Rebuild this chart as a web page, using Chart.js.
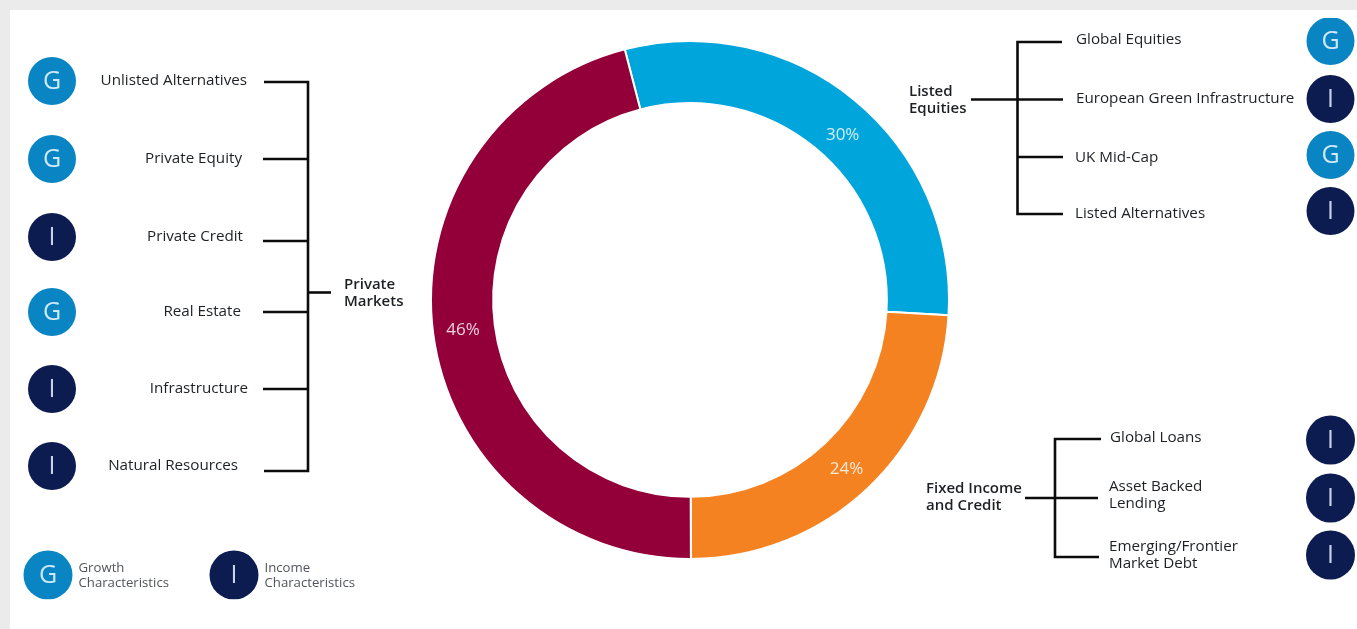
<!DOCTYPE html>
<html>
<head>
<meta charset="utf-8">
<title>Portfolio allocation</title>
<script src="https://cdn.jsdelivr.net/npm/chart.js@4/dist/chart.umd.min.js"></script>
<style>
  html, body { margin: 0; padding: 0; background: #ebebeb; overflow: hidden; }
  canvas { display: block; }
</style>
</head>
<body>
<canvas id="myChart" width="1357" height="629"></canvas>
<script>
// allocation split
var assetClasses = ["Listed Equities", "Fixed Income and Credit", "Private Markets"];
var allocation = [30, 24, 46];
var sliceColors = ["#00a5db", "#f58220", "#930039"];

// strategies per asset class, G = growth, I = income
var privateNames = ["Unlisted Alternatives", "Private Equity", "Private Credit", "Real Estate", "Infrastructure", "Natural Resources"];
var privateTypes = ["G", "G", "I", "G", "I", "I"];
var listedNames = ["Global Equities", "European Green Infrastructure", "UK Mid-Cap", "Listed Alternatives"];
var listedTypes = ["G", "I", "G", "I"];
var fixedNames = [["Global Loans"], ["Asset Backed", "Lending"], ["Emerging/Frontier", "Market Debt"]];
var fixedTypes = ["I", "I", "I"];

var legendNames = [["Growth", "Characteristics"], ["Income", "Characteristics"]];
var legendTypes = ["G", "I"];

var TEXT = "#1d2024";
var BADGE = { G: "#0a85c4", I: "#0c1c50" };
var GLYPH = { G: "#cfe9f6", I: "#c9d3e6" };

function badge(c, x, y, r, type) {
  c.beginPath();
  c.arc(x, y, r, 0, Math.PI * 2);
  c.fillStyle = BADGE[type];
  c.fill();
  c.fillStyle = GLYPH[type];
  c.font = "25px 'Open Sans'";
  c.textAlign = "center";
  c.textBaseline = "middle";
  c.fillText(type, x, y + 1);
}

function lines(c, segs) {
  c.strokeStyle = "#0c0c0c";
  c.lineWidth = 2.6;
  c.lineCap = "butt";
  c.lineJoin = "miter";
  segs.forEach(function (s) {
    c.beginPath();
    c.moveTo(s[0], s[1]);
    for (var i = 2; i < s.length; i += 2) c.lineTo(s[i], s[i + 1]);
    c.stroke();
  });
}

function text(c, str, x, y, font, color, align) {
  c.font = font;
  c.fillStyle = color || TEXT;
  c.textAlign = align || "left";
  c.textBaseline = "middle";
  c.fillText(str, x, y + 1.5);
}

// white panel behind the doughnut
var panel = {
  id: "panel",
  beforeDraw: function (chart) {
    var c = chart.ctx;
    c.save();
    c.fillStyle = "#ffffff";
    c.fillRect(10, 10, chart.width - 10, chart.height - 10);
    c.restore();
  }
};

// percentages on the ring, brackets and strategy badges around it
var annotations = {
  id: "annotations",
  afterDraw: function (chart) {
    var c = chart.ctx;
    c.save();

    var arcs = chart.getDatasetMeta(0).data;
    var nudge = [[8, 10], [0, 2], [-1, -1]];
    arcs.forEach(function (arc, i) {
      var p = arc.tooltipPosition();
      text(c, allocation[i] + "%", p.x + nudge[i][0], p.y + nudge[i][1], "17px 'Open Sans'", "rgba(255,255,255,0.82)", "center");
    });

    // private markets, left side
    var leftRight = [247, 242, 243, 241, 248, 238];
    var leftText = [80, 158, 236, 311, 388, 465];
    var leftBadge = [81, 159, 237, 312, 389, 466];
    privateNames.forEach(function (n, i) {
      text(c, n, leftRight[i], leftText[i] - 0.5, "15.2px 'Open Sans'", TEXT, "right");
      badge(c, 52, leftBadge[i], 24, privateTypes[i]);
    });
    lines(c, [
      [264, 82, 308, 82, 308, 471, 264, 471],
      [263, 159, 308, 159],
      [263, 241, 308, 241],
      [263, 312, 308, 312],
      [263, 389, 308, 389],
      [308, 292.5, 331, 292.5]
    ]);
    text(c, "Private", 344, 283, "600 15px 'Open Sans'");
    text(c, "Markets", 344, 300, "600 15px 'Open Sans'");

    // listed equities, top right; the first circle is cut off at the top
    var listedY = [38, 97, 156, 212];
    var listedBadge = [41, 99, 155, 211];
    c.save();
    c.beginPath();
    c.rect(0, 18, chart.width, chart.height);
    c.clip();
    listedNames.forEach(function (n, i) {
      text(c, n, i > 1 ? 1075 : 1076, listedY[i], "15.2px 'Open Sans'");
      badge(c, 1330.5, listedBadge[i], 24, listedTypes[i]);
    });
    c.restore();
    lines(c, [
      [1062, 42, 1017.5, 42, 1017.5, 214, 1063, 214],
      [971, 99.5, 1063, 99.5],
      [1017.5, 157, 1063, 157]
    ]);
    text(c, "Listed", 909, 90, "600 15px 'Open Sans'");
    text(c, "Equities", 909, 107, "600 15px 'Open Sans'");

    // fixed income, bottom right
    var fixedY = [[436], [485, 502], [545, 562]];
    var fixedBadge = [440, 498, 555];
    fixedNames.forEach(function (parts, i) {
      parts.forEach(function (n, k) {
        text(c, n, i == 0 ? 1110 : 1109, fixedY[i][k], "15.2px 'Open Sans'");
      });
      badge(c, 1330.5, fixedBadge[i], 24.5, fixedTypes[i]);
    });
    lines(c, [
      [1101, 439, 1055, 439, 1055, 557, 1099, 557],
      [1025, 498, 1098, 498]
    ]);
    text(c, "Fixed Income", 926, 487, "600 15px 'Open Sans'");
    text(c, "and Credit", 926, 504, "600 15px 'Open Sans'");

    // key, the circles are cut off at the bottom
    var keyX = [48, 234];
    c.save();
    c.beginPath();
    c.rect(0, 0, chart.width, 599.5);
    c.clip();
    legendTypes.forEach(function (t, i) {
      badge(c, keyX[i], 575, 24.5, t);
    });
    c.restore();
    legendNames.forEach(function (parts, i) {
      parts.forEach(function (n, k) {
        text(c, n, keyX[i] + 30.5, 567 + k * 15, "13.2px 'Open Sans'", "#50555b");
      });
    });

    c.restore();
  }
};

var ctx = document.getElementById("myChart").getContext("2d");
var myChart = new Chart(ctx, {
  type: "doughnut",
  data: {
    labels: assetClasses,
    datasets: [{
      data: allocation,
      backgroundColor: sliceColors,
      borderColor: "#ffffff",
      borderWidth: 2,
      hoverOffset: 0
    }]
  },
  options: {
    responsive: false,
    animation: false,
    rotation: -14.6,
    cutout: "76%",
    layout: { padding: { left: 430, right: 407, top: 40, bottom: 69 } },
    plugins: { legend: { display: false }, tooltip: { enabled: false } }
  },
  plugins: [panel, annotations]
});
</script>
</body>
</html>
